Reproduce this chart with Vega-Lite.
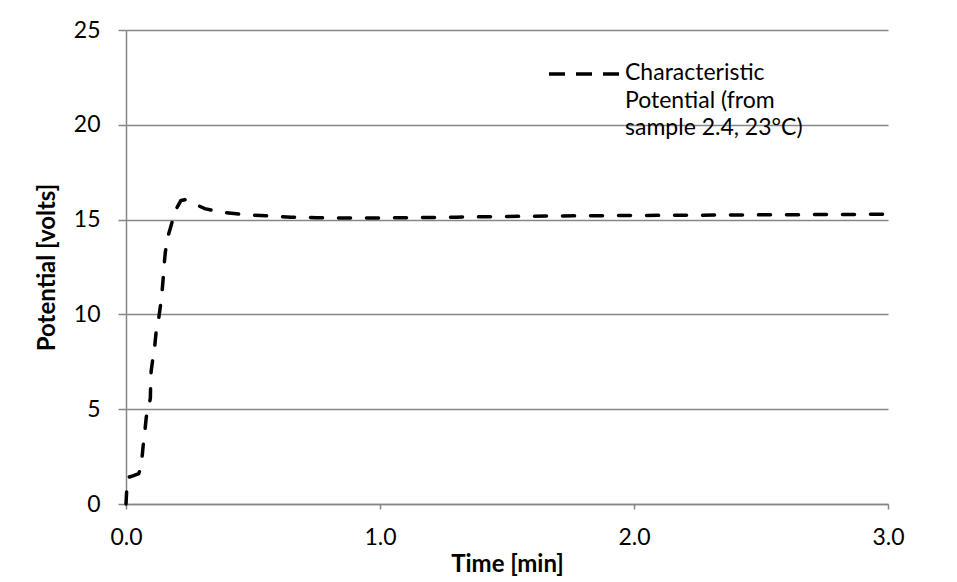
{
  "$schema": "https://vega.github.io/schema/vega-lite/v6.json",
  "width": 762,
  "height": 474,
  "autosize": {"type": "none"},
  "padding": {"left": 126, "top": 30, "right": 69, "bottom": 78},
  "background": "#ffffff",
  "config": {
    "view": {"stroke": null},
    "font": "Lato",
    "style": {"guide-label": {"dy": -12, "lineHeight": 27.5}},
    "axis": {
      "labelFont": "Lato",
      "labelFontSize": 23,
      "labelColor": "#000000",
      "titleFont": "Lato",
      "titleFontSize": 24,
      "titleFontWeight": "bold",
      "titleColor": "#000000",
      "domainColor": "#868686",
      "domainWidth": 1.5,
      "tickColor": "#868686",
      "tickWidth": 1.5,
      "gridColor": "#868686",
      "gridWidth": 1.5
    },
    "legend": {
      "labelFont": "Lato",
      "labelFontSize": 23,
      "labelColor": "#000000"
    }
  },
  "data": {
    "values": [
      {"t": 0, "v": 0},
      {"t": 0.003, "v": 0.8},
      {"t": 0.008, "v": 1.4},
      {"t": 0.03, "v": 1.5},
      {"t": 0.05, "v": 1.6},
      {"t": 0.06, "v": 2.0},
      {"t": 0.067, "v": 3.0},
      {"t": 0.074, "v": 3.8},
      {"t": 0.08, "v": 4.6},
      {"t": 0.09, "v": 5.1},
      {"t": 0.096, "v": 5.6},
      {"t": 0.097, "v": 6.4},
      {"t": 0.099, "v": 7.0},
      {"t": 0.105, "v": 7.6},
      {"t": 0.113, "v": 8.3},
      {"t": 0.118, "v": 9.0},
      {"t": 0.128, "v": 9.7},
      {"t": 0.136, "v": 10.5},
      {"t": 0.142, "v": 11.2},
      {"t": 0.147, "v": 12.0},
      {"t": 0.15, "v": 12.6},
      {"t": 0.155, "v": 13.3},
      {"t": 0.165, "v": 14.1},
      {"t": 0.18, "v": 14.8},
      {"t": 0.195, "v": 15.5},
      {"t": 0.216, "v": 16.0},
      {"t": 0.232, "v": 16.05},
      {"t": 0.266, "v": 15.85},
      {"t": 0.31, "v": 15.58},
      {"t": 0.37, "v": 15.4},
      {"t": 0.45, "v": 15.28},
      {"t": 0.55, "v": 15.2},
      {"t": 0.65, "v": 15.13},
      {"t": 0.75, "v": 15.1},
      {"t": 0.9, "v": 15.08},
      {"t": 1.1, "v": 15.1},
      {"t": 1.3, "v": 15.13},
      {"t": 1.6, "v": 15.18},
      {"t": 1.9, "v": 15.21},
      {"t": 2.2, "v": 15.23},
      {"t": 2.5, "v": 15.25},
      {"t": 2.8, "v": 15.27},
      {"t": 3.0, "v": 15.28}
    ]
  },
  "transform": [{"calculate": "'Characteristic|Potential (from|sample 2.4, 23°C)'", "as": "series"}],
  "mark": {"type": "line", "strokeWidth": 3.5, "strokeDash": [12, 16], "strokeCap": "round", "clip": false},
  "encoding": {
    "x": {
      "field": "t",
      "type": "quantitative",
      "scale": {"domain": [0, 3], "nice": false, "zero": false},
      "axis": {
        "title": "Time [min]",
        "values": [0, 1, 2, 3],
        "format": ".1f",
        "grid": false,
        "labelFlush": false,
        "tickSize": 5,
        "labelPadding": 29,
        "titlePadding": 3
      }
    },
    "y": {
      "field": "v",
      "type": "quantitative",
      "scale": {"domain": [0, 25], "nice": false},
      "axis": {
        "title": "Potential [volts]",
        "values": [0, 5, 10, 15, 20, 25],
        "grid": true,
        "tickSize": 8,
        "labelOffset": 12,
        "labelPadding": 18,
        "titlePadding": 14
      }
    },
    "color": {
      "field": "series",
      "type": "nominal",
      "scale": {"range": ["#000000"]},
      "legend": {
        "title": null,
        "orient": "none",
        "legendX": 421,
        "legendY": 7,
        "padding": 0,
        "symbolType": "stroke",
        "symbolSize": 4900,
        "symbolStrokeWidth": 3.5,
        "symbolDash": [16, 11],
        "labelExpr": "split(datum.label, '|')",
        "labelLimit": 400,
        "labelOffset": 4,
        "labelBaseline": "top"
      }
    }
  }
}
